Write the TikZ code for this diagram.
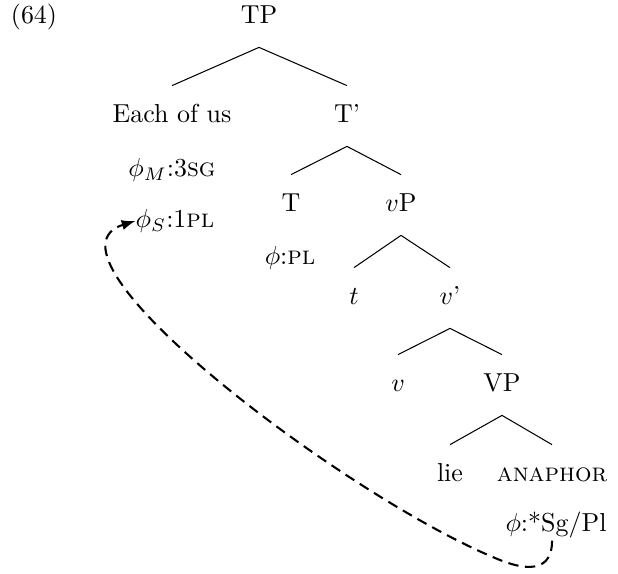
\documentclass[tikz,border=0pt]{standalone}
\begin{document}
\begin{tikzpicture}[x=0.01353cm,y=-0.01353cm,
  every node/.style={inner xsep=0pt,inner ysep=7pt,text height=7pt,text depth=2pt}]
  \useasboundingbox (0,0) rectangle (618,573);
  \node (ex) at (34,17) {(64)};
  \node (TP) at (259,17) {TP};
  \node (Each) at (172,116) {Each of us};
  \node (Tbar) at (347,116) {T'};
  \node (phiM) at (172,170) {$\phi_M$:3\textsc{sg}};
  \node (phiS) at (175,221) {$\phi_S$:1\textsc{pl}};
  \node (T) at (291,205) {T};
  \node (vP) at (401,205) {$v$P};
  \node (phiT) at (290,258) {$\phi$:\textsc{pl}};
  \node (t) at (354,298) {$t$};
  \node (vbar) at (450,298) {$v$'};
  \node (v) at (398,385) {$v$};
  \node (VP) at (502,385) {VP};
  \node (lie) at (450,475) {lie};
  \node (ana) at (552,475) {\textsc{anaphor}};
  \node (phiA) at (556,525) {$\phi$:*Sg/Pl};
  \draw
  (TP.south) -- (Each.north)
  (TP.south) -- (Tbar.north)
  (Tbar.south) -- (T.north)
  (Tbar.south) -- (vP.north)
  (vP.south) -- (t.north)
  (vP.south) -- (vbar.north)
  (vbar.south) -- (v.north)
  (vbar.south) -- (VP.north)
  (VP.south) -- (lie.north)
  (VP.south) -- (ana.north);
  \draw[-latex,thick,dash pattern=on 4pt off 2.5pt] ([xshift=-1.5pt,yshift=-6pt]phiA.center)
  .. controls (552,570) and (530,572) .. (500,560)
  .. controls (350,500) and (25,255) .. (phiS.west);
\end{tikzpicture}
\end{document}
